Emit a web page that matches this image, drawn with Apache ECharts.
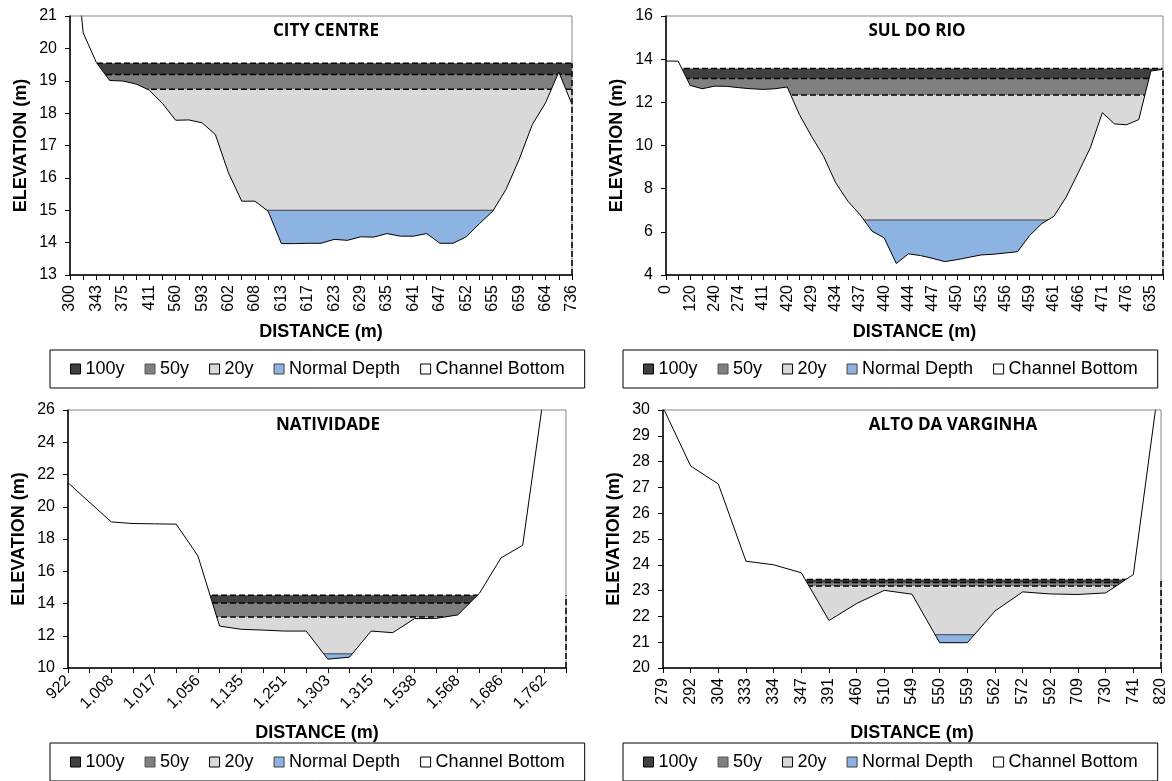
<!DOCTYPE html>
<html>
<head>
<meta charset="utf-8">
<script src="https://cdn.jsdelivr.net/npm/echarts@6/dist/echarts.min.js"></script>
<style>
  html, body { margin: 0; padding: 0; background: #fff; }
  #chart { width: 1172px; height: 781px; }
</style>
</head>
<body>
<div id="chart"></div>
<script>
// level order in every *Levels array: 100y, 50y, 20y, normal depth
const levelNames = ['100y', '50y', '20y', 'Normal Depth'];

// City Centre
const cityCats = ['300', '321', '343', '360', '375', '393', '411', '512', '560', '577', '593', '598',
  '602', '605', '608', '611', '613', '615', '617', '620', '623', '626', '629', '632', '635', '638',
  '641', '644', '647', '650', '652', '654', '655', '657', '659', '662', '664', '668', '736'];
const cityGround = [24.6, 20.48, 19.56, 19.01, 18.99, 18.9, 18.71, 18.3, 17.78, 17.79, 17.7, 17.34,
  16.15, 15.28, 15.28, 14.97, 13.97, 13.97, 13.98, 13.98, 14.1, 14.07, 14.18, 14.17, 14.28, 14.2,
  14.2, 14.28, 13.98, 13.98, 14.18, 14.59, 14.97, 15.64, 16.57, 17.65, 18.32, 19.27, 18.27];
const cityLevels = [19.54, 19.19, 18.74, 15.0];

// Sul do Rio
const sulCats = ['0', '60', '120', '180', '240', '257', '274', '342', '411', '416', '420', '425',
  '429', '432', '434', '436', '437', '439', '440', '442', '444', '446', '447', '449', '450', '452',
  '453', '455', '456', '458', '459', '460', '461', '464', '466', '469', '471', '474', '476', '555',
  '635', '660'];
const sulGround = [13.91, 13.91, 12.78, 12.63, 12.75, 12.74, 12.68, 12.63, 12.6, 12.63, 12.71,
  11.44, 10.43, 9.5, 8.27, 7.42, 6.8, 6.03, 5.72, 4.53, 4.98,
  4.9, 4.77, 4.62, 4.71, 4.82, 4.93, 4.96, 5.02, 5.08, 5.83,
  6.38, 6.72, 7.6, 8.73, 9.89, 11.52, 11.0, 10.96, 11.2, 13.45, 13.53];
const sulLevels = [13.57, 13.11, 12.34, 6.55];

// Natividade
const natCats = ['922', '965', '1,008', '1,012', '1,017', '1,036', '1,056', '1,095', '1,135',
  '1,193', '1,251', '1,277', '1,303', '1,309', '1,315', '1,426', '1,538', '1,553', '1,568',
  '1,627', '1,686', '1,724', '1,762', '1,800'];
const natGround = [21.49, 20.27, 19.06, 18.96, 18.94, 18.92, 16.95, 12.6, 12.4, 12.35, 12.29,
  12.29, 10.55, 10.67, 12.29, 12.19, 13.06, 13.08, 13.29, 14.63, 16.83, 17.61, 27.2, 28.5];
const natLevels = [14.51, 14.03, 13.16, 10.88];

// Alto da Varginha
const altoCats = ['279', '292', '304', '333', '334', '347', '391', '460', '510', '549', '550',
  '559', '562', '572', '592', '709', '730', '741', '820'];
const altoGround = [30.1, 27.83, 27.13, 24.14, 24.0, 23.69, 21.84, 22.5, 23.01, 22.86, 20.98,
  20.98, 22.21, 22.95, 22.87, 22.85, 22.91, 23.62, 31.6];
const altoLevels = [23.43, 23.31, 23.18, 21.29];

const FONT = '"Liberation Sans", Arial, sans-serif';
const fills = ['#404040', '#808080', '#d9d9d9', '#8db3e2'];

const panels = [
  { title: 'CITY CENTRE', cats: cityCats, ground: cityGround, levels: cityLevels, y: [13, 21, 1],
    grid: { left: 70, top: 16, width: 502, height: 259 }, rotate: 90, every: 1, gapX: 48,
    titleAt: [326, 31], legendAt: [50, 350] },
  { title: 'SUL DO RIO', cats: sulCats, ground: sulGround, levels: sulLevels, y: [4, 16, 2],
    grid: { left: 666, top: 16, width: 497, height: 259 }, rotate: 90, every: 1, gapX: 48,
    titleAt: [917, 31], legendAt: [623, 350] },
  { title: 'NATIVIDADE', cats: natCats, ground: natGround, levels: natLevels, y: [10, 26, 2],
    grid: { left: 68, top: 410, width: 498, height: 258 }, rotate: 45, every: 1, gapX: 56,
    titleAt: [328, 425], legendAt: [50, 743] },
  { title: 'ALTO DA VARGINHA', cats: altoCats, ground: altoGround, levels: altoLevels, y: [20, 30, 1],
    grid: { left: 663, top: 410, width: 498, height: 258 }, rotate: 90, every: 0, gapX: 56,
    titleAt: [953, 425], legendAt: [623, 743] }
];

const series = [];
panels.forEach((p, i) => {
  const first = p.cats[0], last = p.cats[p.cats.length - 1];
  p.levels.forEach((lv, k) => {
    series.push({
      name: levelNames[k], type: 'line', xAxisIndex: i, yAxisIndex: i,
      data: [[first, lv], [last, lv]],
      symbol: 'none', z: 2 + k, silent: true,
      itemStyle: { color: fills[k] },
      lineStyle: k < 3 ? { color: '#000', width: 1.5, type: [6, 3] } : { color: '#404040', width: 1 },
      areaStyle: { color: fills[k], opacity: 1, origin: 'start' }
    });
  });
  series.push({
    name: 'Channel Bottom', type: 'line', xAxisIndex: i, yAxisIndex: i,
    data: p.ground, symbol: 'none', z: 6, silent: true,
    itemStyle: { color: '#fff' },
    lineStyle: { color: '#000', width: 1 },
    areaStyle: { color: '#fff', opacity: 1, origin: 'start' }
  });
  // dashed right edge of the flood areas
  series.push({
    type: 'line', xAxisIndex: i, yAxisIndex: i, silent: true,
    data: [[last, p.y[0]], [last, p.levels[0]]], symbol: 'none', z: 9,
    lineStyle: { color: '#000', width: 1.5, type: [6, 3] }
  });
});

const option = {
  animation: false,
  textStyle: { fontFamily: FONT, color: '#000' },
  grid: panels.map(p => Object.assign({ show: true, borderColor: '#868686', borderWidth: 1,
    backgroundColor: 'transparent', z: 8, containLabel: false }, p.grid)),
  xAxis: panels.map((p, i) => ({
    type: 'category', gridIndex: i, data: p.cats, boundaryGap: false, z: 10,
    name: 'DISTANCE (m)', nameLocation: 'middle', nameGap: p.gapX,
    nameTextStyle: { fontSize: 18, fontWeight: 'bold', color: '#000', fontFamily: FONT },
    axisLine: { lineStyle: { color: '#000', width: 1.5 } },
    axisTick: { interval: 0, length: 5, lineStyle: { color: '#000' } },
    axisLabel: { interval: p.every, rotate: p.rotate, margin: 10, fontSize: 16, color: '#000', fontFamily: FONT },
    splitLine: { show: false }
  })),
  yAxis: panels.map((p, i) => ({
    type: 'value', gridIndex: i, min: p.y[0], max: p.y[1], interval: p.y[2], z: 10,
    name: 'ELEVATION (m)', nameLocation: 'middle', nameGap: 40,
    nameTextStyle: { fontSize: 18, fontWeight: 'bold', color: '#000', fontFamily: FONT },
    axisLine: { show: true, lineStyle: { color: '#000', width: 1.5 } },
    axisTick: { show: true, length: 5, lineStyle: { color: '#000' } },
    axisLabel: { margin: 13, fontSize: 16, color: '#000', fontFamily: FONT },
    splitLine: { show: false }
  })),
  legend: panels.map(p => ({
    left: p.legendAt[0], top: p.legendAt[1],
    icon: 'rect', itemWidth: 10, itemHeight: 10, itemGap: 20,
    selectedMode: false,
    borderColor: '#000', borderWidth: 1, padding: [10, 20],
    textStyle: { fontSize: 18, color: '#000', fontFamily: FONT },
    data: [
      { name: '100y', itemStyle: { color: fills[0], borderColor: '#000', borderWidth: 1 } },
      { name: '50y', itemStyle: { color: fills[1], borderColor: '#555', borderWidth: 1 } },
      { name: '20y', itemStyle: { color: fills[2], borderColor: '#000', borderWidth: 1 } },
      { name: 'Normal Depth', itemStyle: { color: fills[3], borderColor: '#404040', borderWidth: 1 } },
      { name: 'Channel Bottom', itemStyle: { color: '#fff', borderColor: '#000', borderWidth: 1 } }
    ]
  })),
  graphic: panels.map(p => ({
    type: 'text', x: p.titleAt[0], y: p.titleAt[1], z: 20, silent: true,
    style: { text: p.title, font: 'bold 17px "Open Sans", sans-serif', fill: '#000',
      align: 'center', verticalAlign: 'middle' }
  })),
  series: series
};

const chart = echarts.init(document.getElementById('chart'));
chart.setOption(option);
</script>
</body>
</html>
